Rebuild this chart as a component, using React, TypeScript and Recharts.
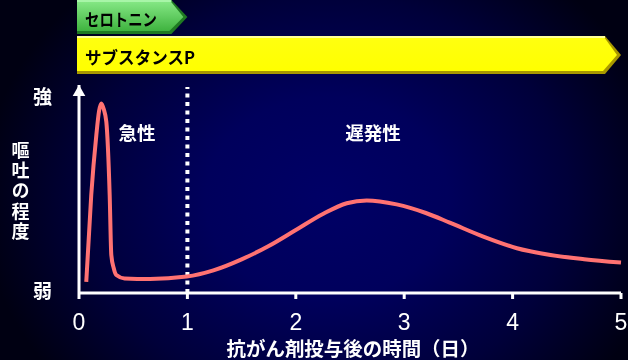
import React from 'react';
import {
  ComposedChart,
  Line,
  XAxis,
  YAxis,
  ReferenceLine,
  ReferenceArea,
  ReferenceDot,
  Customized,
} from 'recharts';

// Time after chemotherapy (days) and nausea/vomiting intensity (0 = weak, 100 = strong)
const days = [
  0.067, 0.113, 0.16, 0.185, 0.206, 0.228, 0.252, 0.283, 0.298, 0.32, 0.344, 0.42,
  0.655, 0.994, 1.24, 1.5, 1.75, 2.0, 2.25, 2.47, 2.654, 2.93, 3.2, 3.42,
  3.73, 4.04, 4.35, 4.66, 5.0,
];
const severity = [
  5.6, 49, 79, 91, 94.8, 92, 85.6, 49, 19, 12.5, 9, 7.3,
  7, 8.2, 11.3, 16.8, 23.5, 31.5, 39.5, 44.9, 46.3, 44.3, 40, 35.2,
  28.2, 22.4, 19, 16.9, 15.2,
];

const xTicks = [0, 1, 2, 3, 4, 5];
const yTickValues = [2, 99];
const yTickLabels = ['弱', '強'];
const acuteBoundary = 1;

// Mediators and the day each one's phase ends
const phaseNames = ['セロトニン', 'サブスタンスP'];
const phaseStart = [0, 0];
const phaseEnd = [1, 5];

const data = days.map((d, i) => ({ day: d, level: severity[i] }));

const JP = '"Noto Sans CJK JP", "Noto Sans", sans-serif';
const LATIN = '"Liberation Sans", Arial, sans-serif';

type ArrowStyle = {
  edge: string;
  faceTop: string;
  faceBottom: string;
  highlight: string;
  id: string;
  textLength: number;
};

const arrowStyles: ArrowStyle[] = [
  { edge: '#1f7a22', faceTop: '#86e886', faceBottom: '#3fb33f', highlight: '#a8f5a8', id: 'gGreen', textLength: 72 },
  { edge: '#a89800', faceTop: '#ffff10', faceBottom: '#ffff00', highlight: '#ffff99', id: 'gYellow', textLength: 110 },
];

function PhaseArrow(props: any) {
  const { x, y, width, height, label, style } = props;
  const s: ArrowStyle = style;
  const left = x - 2;
  const right = x + width;
  const tip = 16;
  const top = y;
  const bottom = y + height;
  const mid = (top + bottom) / 2;
  const outer = `${left},${top} ${right - tip},${top} ${right},${mid} ${right - tip},${bottom} ${left},${bottom}`;
  const face = `${left},${top + 1} ${right - tip - 1},${top + 1} ${right - 4},${mid} ${right - tip - 2},${bottom - 3} ${left},${bottom - 3}`;
  return (
    <g>
      <defs>
        <linearGradient id={s.id} x1="0" y1="0" x2="0" y2="1">
          <stop offset="0%" stopColor={s.faceTop} />
          <stop offset="100%" stopColor={s.faceBottom} />
        </linearGradient>
      </defs>
      <polygon points={outer} fill={s.edge} />
      <polygon points={face} fill={`url(#${s.id})`} />
      <rect x={left} y={top} width={right - tip - left} height={2} fill={s.highlight} />
      <text
        x={left + 8}
        y={mid + 1.5}
        fill="#000"
        fontFamily={JP}
        fontWeight={700}
        fontSize={17}
        dominantBaseline="central"
        textLength={s.textLength}
        lengthAdjust="spacingAndGlyphs"
      >
        {label}
      </text>
    </g>
  );
}

function YTick(props: any) {
  const { y, payload } = props;
  const idx = yTickValues.indexOf(payload.value);
  return (
    <text
      x={42.5}
      y={y}
      fill="#fff"
      fontFamily={JP}
      fontWeight={700}
      fontSize={19}
      textAnchor="middle"
      dominantBaseline="central"
    >
      {yTickLabels[idx]}
    </text>
  );
}

function AxisArrow(props: any) {
  const { cx, cy } = props;
  return <polygon points={`${cx},${cy} ${cx + 6.3},${cy + 11} ${cx - 6.3},${cy + 11}`} fill="#fff" />;
}

const yTitle = '嘔吐の程度';

function Annotations() {
  const textProps = {
    fill: '#fff',
    fontFamily: JP,
    fontWeight: 700,
    dominantBaseline: 'central' as const,
    textAnchor: 'middle' as const,
  };
  return (
    <g>
      {/* vertical axis title, set top to bottom */}
      <text
        x={20.5}
        y={141}
        fontSize={18}
        fill="#fff"
        fontFamily={JP}
        fontWeight={700}
        style={{ writingMode: 'vertical-rl', letterSpacing: '2.25px' }}
      >
        {yTitle}
      </text>
      <text x={137} y={131.5} fontSize={18.5} {...textProps}>
        急性
      </text>
      <text x={373} y={131.5} fontSize={18.5} {...textProps}>
        遅発性
      </text>
      <text x={353} y={347} fontSize={19} textLength={253} lengthAdjust="spacingAndGlyphs" {...textProps}>
        抗がん剤投与後の時間（日）
      </text>
    </g>
  );
}

export default function App() {
  return (
    <div
      style={{
        position: 'fixed',
        left: 0,
        top: 0,
        width: 628,
        height: 360,
        background:
          'radial-gradient(ellipse 55% 80% at 52% 55%, #000066 0%, #00005c 35%, #00003a 70%, #000012 100%)',
      }}
    >
      <ComposedChart width={628} height={360} data={data} margin={{ top: 85, right: 7, bottom: 27, left: 0 }}>
        <XAxis
          dataKey="day"
          type="number"
          domain={[0, 5]}
          ticks={xTicks}
          height={40}
          axisLine={{ stroke: '#fff', strokeWidth: 3 }}
          tickLine={{ stroke: '#fff', strokeWidth: 3 }}
          tickSize={6}
          tickMargin={15}
          tick={{ fill: '#fff', fontSize: 23, fontFamily: LATIN }}
        />
        <YAxis
          type="number"
          domain={[0, 104]}
          ticks={yTickValues}
          width={79}
          axisLine={{ stroke: '#fff', strokeWidth: 3 }}
          tickLine={false}
          tickSize={0}
          tick={<YTick />}
        />
        {phaseNames.map((name, i) => (
          <ReferenceArea
            key={name}
            x1={phaseStart[i]}
            x2={phaseEnd[i]}
            y1={i === 0 ? 129.5 : 109.5}
            y2={i === 0 ? 146.5 : 128.5}
            ifOverflow="visible"
            shape={(p: any) => <PhaseArrow {...p} label={name} style={arrowStyles[i]} />}
          />
        ))}
        <ReferenceLine
          segment={[
            { x: acuteBoundary, y: 0 },
            { x: acuteBoundary, y: 103 },
          ]}
          stroke="#fff"
          strokeWidth={4}
          strokeDasharray="4 4.5"
          ifOverflow="visible"
        />
        <ReferenceDot x={0} y={104} ifOverflow="visible" shape={<AxisArrow />} />
        <Line
          type="monotone"
          dataKey="level"
          stroke="#ff7272"
          strokeWidth={4}
          dot={false}
          isAnimationActive={false}
        />
        <Customized component={<Annotations />} />
      </ComposedChart>
    </div>
  );
}
